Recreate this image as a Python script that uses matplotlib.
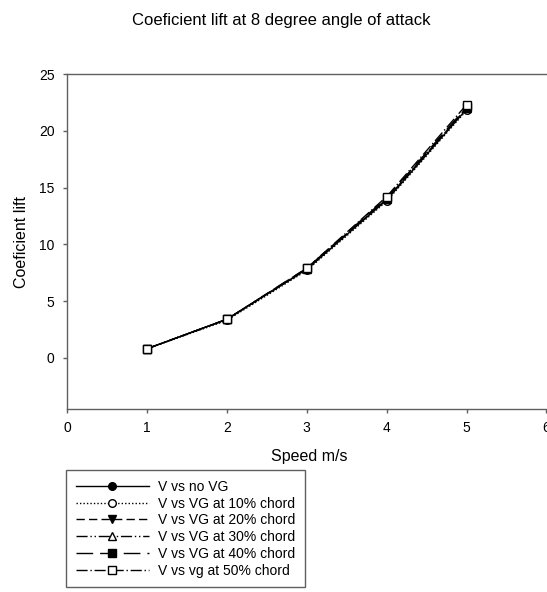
import matplotlib
matplotlib.use("Agg")
import matplotlib.pyplot as plt

plt.rcParams['font.family'] = ['Liberation Sans', 'DejaVu Sans']

speed = [1, 2, 3, 4, 5]
no_vg = [0.8, 3.4, 7.8, 13.9, 21.9]
vg10 = [0.8, 3.3, 7.7, 13.8, 21.8]
vg20 = [0.8, 3.4, 7.8, 14.0, 22.0]
vg30 = [0.8, 3.4, 7.8, 14.0, 22.0]
vg40 = [0.8, 3.4, 7.9, 14.1, 22.1]
vg50 = [0.8, 3.4, 7.9, 14.2, 22.3]
labels = ["V vs no VG", "V vs VG at 10% chord", "V vs VG at 20% chord",
          "V vs VG at 30% chord", "V vs VG at 40% chord", "V vs vg at 50% chord"]

fig = plt.figure(figsize=(5.47, 5.92), dpi=100)
ax = fig.add_axes([67/547, 1-409/592, 1-67/547 + 0.01, (409-74)/592])

styles = [
    dict(ls='-', marker='o', mfc='black'),
    dict(ls=(0, (1, 1.5)), marker='o', mfc='white'),
    dict(ls=(0, (6, 3)), marker='v', mfc='black'),
    dict(ls=(0, (8, 2, 1, 2, 1, 2)), marker='^', mfc='white'),
    dict(ls=(0, (12, 5)), marker='s', mfc='black'),
    dict(ls=(0, (8, 2, 1, 2)), marker='s', mfc='white'),
]
series = [no_vg, vg10, vg20, vg30, vg40, vg50]
for ys, st, lab in zip(series, styles, labels):
    ax.plot(speed, ys, color='black', lw=1.0, linestyle=st['ls'], marker=st['marker'],
            mfc=st['mfc'], mec='black', ms=5.5, mew=1.0, label=lab)

ax.set_xlim(0, 6.075)
ax.set_ylim(-4.5, 25)
ax.set_xticks([0, 1, 2, 3, 4, 5, 6])
ax.set_yticks([0, 5, 10, 15, 20, 25])
ax.spines['right'].set_visible(False)
for s in ['left', 'bottom', 'top']:
    ax.spines[s].set_color('#606060')
    ax.spines[s].set_linewidth(1.0)
ax.tick_params(direction='out', length=3, width=1, color='#606060', labelsize=10, pad=6)
ax.set_xlabel("Speed m/s", fontsize=11.5, labelpad=10)
ax.set_ylabel("Coeficient lift", fontsize=11.5, labelpad=7)
fig.text(281/547, 1-20/592, "Coeficient lift at 8 degree angle of attack",
         ha='center', va='center', fontsize=12)

leg = fig.legend(loc='upper left', bbox_to_anchor=(66/547, 1-470/592),
                 fontsize=10, handlelength=5.25, handletextpad=0.7, labelspacing=0.2,
                 borderpad=0.7, fancybox=False, framealpha=1, borderaxespad=0)
leg.get_frame().set_edgecolor('#606060')
leg.get_frame().set_linewidth(1.0)

fig.savefig("out.png", dpi=100)
